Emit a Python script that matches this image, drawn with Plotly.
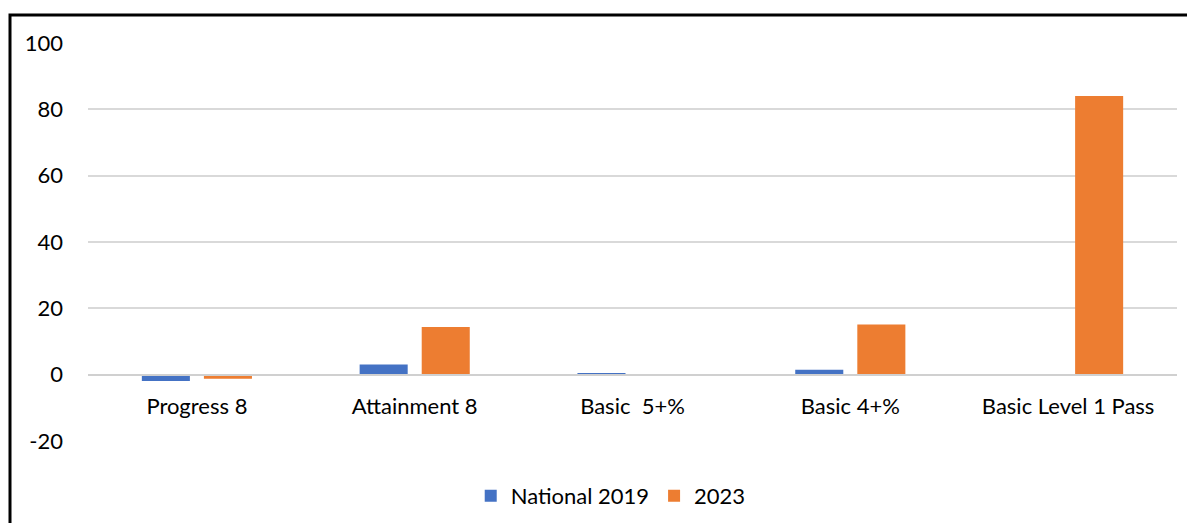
import plotly.graph_objects as go

categories = ["Progress 8", "Attainment 8", "Basic  5+%", "Basic 4+%", "Basic Level 1 Pass"]
national_2019 = [-1.9, 3.1, 0.5, 1.5, None]
y2023 = [-1.2, 14.4, None, 15.1, 84.0]
y_ticks = [-20, 0, 20, 40, 60, 80, 100]

font_family = "Lato, 'Open Sans', sans-serif"
labels = [c.replace("  ", " \u00a0") for c in categories]

# page body has an 8px default margin; compensate in figure margins
OFF = 8
W, H = 1195, 523
L, R, T, B = 88 - OFF, 18 + OFF, 43 - OFF, 82 + OFF
plot_h = H - T - B
plot_w = W - L - R

fig = go.Figure()
fig.add_trace(go.Bar(x=labels, y=national_2019, name="National 2019",
                     marker=dict(color="#4472C4", line=dict(width=0))))
fig.add_trace(go.Bar(x=labels, y=y2023, name="2023",
                     marker=dict(color="#ED7D31", line=dict(width=0))))

fig.update_layout(
    width=W, height=H,
    margin=dict(l=L, r=R, t=T, b=B, autoexpand=False),
    paper_bgcolor="white", plot_bgcolor="white",
    barmode="group", bargap=0.43, bargroupgap=0.226,
    font=dict(family=font_family, size=22, color="#000000"),
    showlegend=True,
    legend=dict(orientation="h", x=0.48, xanchor="center", y=-0.085, yanchor="top",
                font=dict(size=22), itemwidth=30, traceorder="normal"),
    xaxis=dict(anchor="free", position=20/120, showline=True, linecolor="#d0d0d0",
               linewidth=1.5, ticks="", showgrid=False, tickfont=dict(size=22),
               ticklabelstandoff=12, fixedrange=True, automargin=False),
    yaxis=dict(range=[-20, 100], tickvals=y_ticks, ticktext=[str(v) for v in y_ticks],
               showgrid=True, gridcolor="#d9d9d9",
               gridwidth=1.5, zeroline=False, showline=False, ticks="",
               tickfont=dict(size=22), ticklabelstandoff=24, automargin=False),
    shapes=[dict(type="rect", xref="paper", yref="paper",
                 x0=(10 - OFF - L) / plot_w, x1=1.1, y0=-0.3,
                 y1=1 + (T - (15 - OFF)) / plot_h,
                 line=dict(color="black", width=3), fillcolor="rgba(0,0,0,0)", layer="above")],
)

fig.write_html("out.html")
